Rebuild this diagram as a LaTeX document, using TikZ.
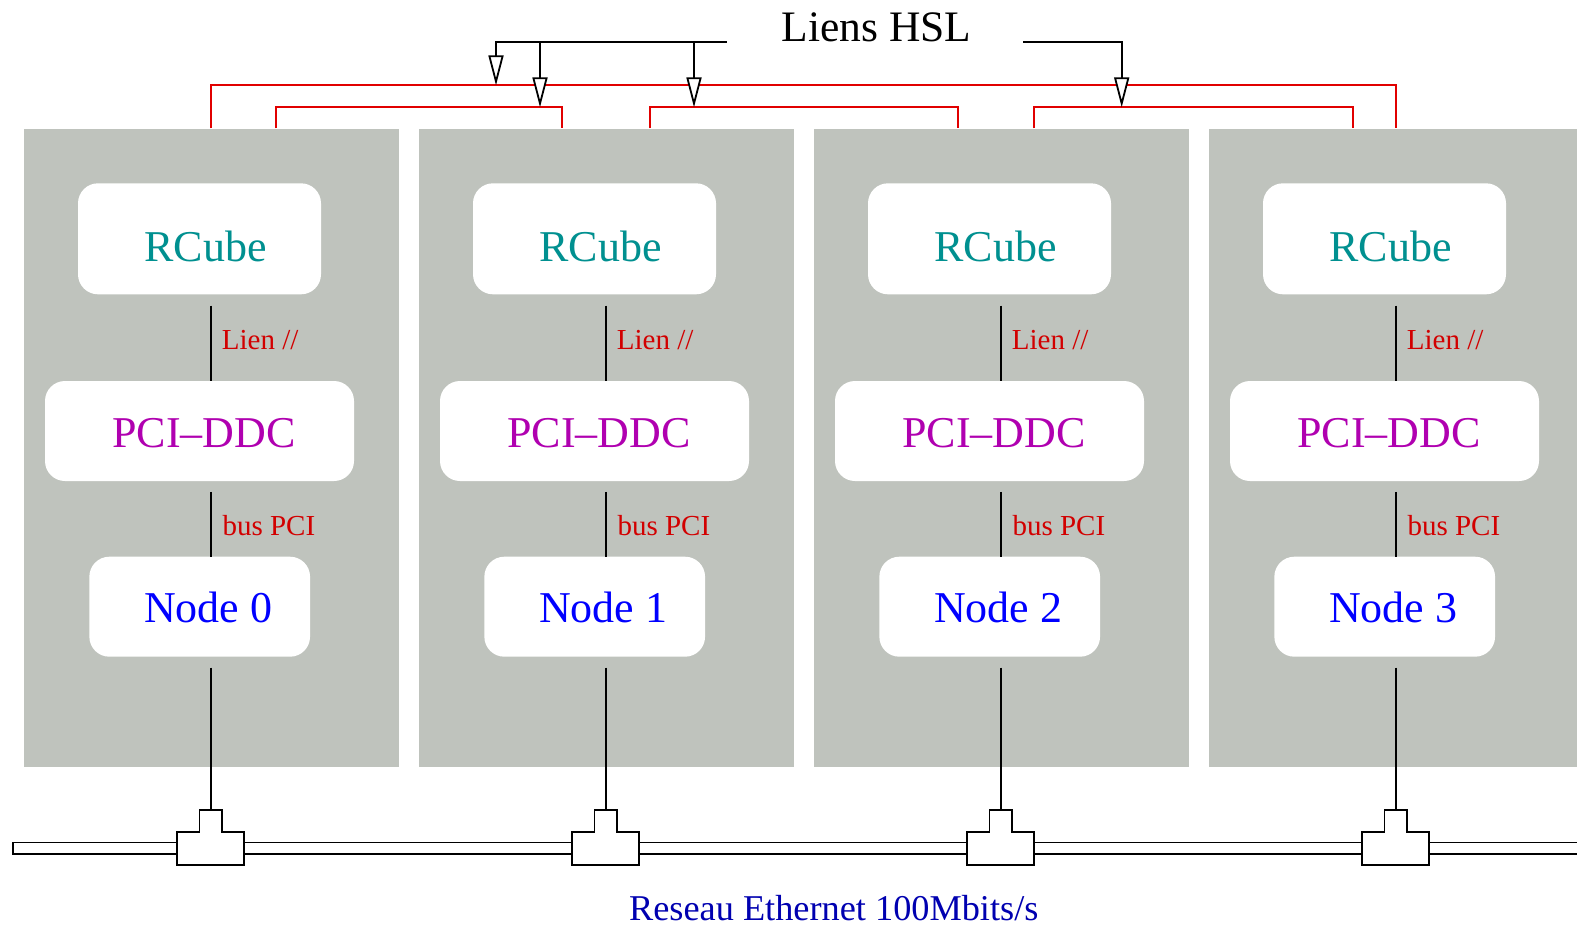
\documentclass[tikz,border=0pt]{standalone}
\usepackage{fontspec}
\setmainfont{Liberation Serif}
\usetikzlibrary{arrows.meta}
\definecolor{panelgray}{RGB}{191,195,189}
\definecolor{rcubecol}{RGB}{0,144,144}
\definecolor{pcicol}{RGB}{176,0,176}
\definecolor{nodecol}{RGB}{0,0,255}
\definecolor{lblred}{RGB}{210,0,0}
\definecolor{hslred}{RGB}{225,0,0}
\definecolor{ethblue}{RGB}{0,0,176}
\tikzset{
  panel/.style={fill=panelgray, inner sep=0pt, minimum width=375pt, minimum height=638pt},
  box/.style={fill=white, rounded corners=20pt, inner sep=0pt},
  wire/.style={draw=black, line width=1.8pt},
  hsl/.style={draw=hslred, line width=1.8pt},
  opentip/.style={-{Triangle[length=30pt,width=15pt,fill=white]}},
  boxtext/.style={font=\fontsize{44}{50}\selectfont, anchor=base, inner sep=0pt},
  lbl/.style={font=\fontsize{29}{32}\selectfont, text=lblred, anchor=base west, inner sep=0pt},
}
\begin{document}
\begin{tikzpicture}[x=1pt,y=-1pt]
\useasboundingbox (0,0) rectangle (1577,927);
% Ethernet cable
\draw[wire, fill=white] (12.7,842.5) rectangle (1600,853.7);
\foreach \i in {0,1,2,3}{
  \pgfmathsetmacro{\cx}{210.7+395*\i}
  \node[panel, anchor=north west] (p\i) at (\cx-187.4,128.3) {};
  \coordinate (ax\i) at (\cx,0);
  \coordinate (t\i) at (\cx,810);
  \node[box, minimum width=243pt, minimum height=111pt] (rc\i) at (\cx-11.2,238.8) {};
  \node[box, minimum width=309pt, minimum height=100pt] (pci\i) at (\cx-11.2,431) {};
  \node[box, minimum width=220.7pt, minimum height=100pt] (nd\i) at (\cx-11,606.7) {};
  \node[boxtext, text=rcubecol] (trc\i) at (\cx-5.2,261.7) {RCube};
  \node[boxtext, text=pcicol] (tpci\i) at (\cx-6.5,447.3) {PCI–DDC};
  \node[boxtext, text=nodecol] (tnd\i) at (\cx-2.4,622.7) {Node \i};
  \node[lbl] (ll\i) at (\cx+11,349) {Lien //};
  \node[lbl] (lb\i) at (\cx+11.6,535) {bus PCI};
  \draw[wire] (rc\i.south -| ax\i) ++(0,11) -- (pci\i.north -| ax\i);
  \draw[wire] (pci\i.south -| ax\i) ++(0,10.7) -- (nd\i.north -| ax\i);
  \draw[wire] (nd\i.south -| ax\i) ++(0,10.6) -- (t\i);
  \draw[wire, fill=white] (\cx-33.4,865) -- (\cx-33.4,831.7) -- (\cx-11.2,831.7)
     -- (\cx-11.2,810) -- (\cx+11,810) -- (\cx+11,831.7) -- (\cx+33,831.7)
     -- (\cx+33,865) -- cycle;
}
% HSL red links
\draw[hsl] (p0.north) -- ++(0,-43) -| (p3.north);
\draw[hsl] ([xshift=65.3pt]p0.north) -- ++(0,-21) -| ([xshift=-43.7pt]p1.north);
\draw[hsl] ([xshift=43.6pt]p1.north) -- ++(0,-21) -| ([xshift=-43.4pt]p2.north);
\draw[hsl] ([xshift=33.3pt]p2.north) -- ++(0,-21) -| ([xshift=-43.4pt]p3.north);
% Title and arrows
\node[font=\fontsize{43.5}{48}\selectfont, anchor=base, inner sep=0pt] (title) at (876.7,41.7) {Liens HSL};
\coordinate (hl) at (726.7,41.7);
\coordinate (hr) at (1023.3,41.7);
\coordinate (a1) at (496,85.3);
\coordinate (a2) at (540,107.3);
\coordinate (a3) at (694,107.3);
\coordinate (a4) at (1121.7,107.3);
\draw[wire, opentip] (hl) -| (a1);
\draw[wire, opentip] (a2 |- hl) -- (a2);
\draw[wire, opentip] (a3 |- hl) -- (a3);
\draw[wire, opentip] (hr) -| (a4);
% Ethernet label
\node[font=\fontsize{36.3}{40}\selectfont, text=ethblue, anchor=base, inner sep=0pt] (eth) at (833.8,920) {Reseau Ethernet 100Mbits/s};
\end{tikzpicture}
\end{document}
